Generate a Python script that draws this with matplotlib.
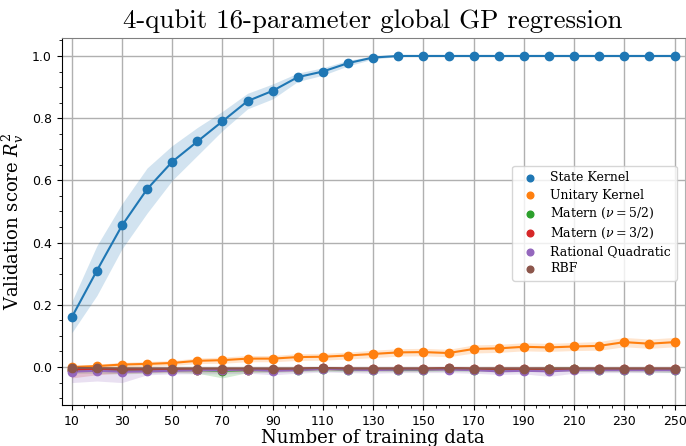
import matplotlib.pyplot as plt
import numpy as np
from matplotlib.ticker import MultipleLocator

plt.rcParams['mathtext.fontset'] = 'dejavuserif'

# training set sizes
n_train = np.arange(10, 251, 10)

# mean validation scores and +/- band
state_mean = [0.160, 0.310, 0.455, 0.572, 0.660, 0.725, 0.790, 0.855, 0.888, 0.932, 0.950, 0.977, 0.995,
              1.0, 1.0, 1.0, 1.0, 1.0, 1.0, 1.0, 1.0, 1.0, 1.0, 1.0, 1.0]
state_lo = [0.110, 0.230, 0.380, 0.495, 0.600, 0.680, 0.760, 0.830, 0.862, 0.918, 0.938, 0.968, 0.990,
            0.998, 0.999, 0.999, 0.999, 0.999, 0.999, 0.999, 0.999, 0.999, 0.999, 0.999, 0.999]
state_hi = [0.210, 0.390, 0.525, 0.640, 0.712, 0.770, 0.822, 0.880, 0.910, 0.945, 0.962, 0.986, 1.0,
            1.0, 1.0, 1.0, 1.0, 1.0, 1.0, 1.0, 1.0, 1.0, 1.0, 1.0, 1.0]

unitary_mean = [0.000, 0.003, 0.008, 0.010, 0.013, 0.020, 0.022, 0.027, 0.027, 0.032, 0.033, 0.037, 0.042,
                0.047, 0.048, 0.045, 0.058, 0.060, 0.065, 0.063, 0.066, 0.068, 0.080, 0.075, 0.080]
unitary_err = [0.005, 0.006, 0.007, 0.008, 0.008, 0.009, 0.010, 0.010, 0.010, 0.011, 0.011, 0.011, 0.012,
               0.012, 0.012, 0.012, 0.013, 0.013, 0.013, 0.013, 0.013, 0.014, 0.015, 0.015, 0.015]

m52_mean = [-0.008, -0.008, -0.010, -0.010, -0.010, -0.010, -0.012, -0.010, -0.010, -0.008, -0.006, -0.008, -0.008,
            -0.008, -0.008, -0.006, -0.008, -0.008, -0.008, -0.006, -0.006, -0.008, -0.008, -0.008, -0.010]
m52_lo = [-0.020, -0.020, -0.022, -0.020, -0.018, -0.020, -0.035, -0.018, -0.018, -0.015, -0.014, -0.015, -0.015,
          -0.015, -0.015, -0.014, -0.015, -0.015, -0.015, -0.014, -0.014, -0.015, -0.015, -0.016, -0.018]
m52_hi = [0.000, 0.000, 0.000, -0.002, -0.002, -0.002, -0.002, -0.002, -0.002, -0.001, 0.000, -0.001, -0.001,
          -0.001, -0.001, 0.000, -0.001, -0.001, -0.001, 0.000, 0.000, -0.001, -0.001, -0.001, -0.002]

m32_mean = [-0.008, -0.008, -0.008, -0.008, -0.008, -0.008, -0.008, -0.008, -0.008, -0.006, -0.004, -0.006, -0.006,
            -0.006, -0.006, -0.004, -0.006, -0.006, -0.006, -0.006, -0.006, -0.006, -0.006, -0.006, -0.006]
m32_lo = [-0.035, -0.025, -0.020, -0.018, -0.016, -0.016, -0.016, -0.015, -0.015, -0.013, -0.010, -0.012, -0.012,
          -0.012, -0.012, -0.010, -0.012, -0.012, -0.012, -0.012, -0.012, -0.012, -0.012, -0.012, -0.012]
m32_hi = [0.002, 0.001, 0.000, 0.000, 0.000, 0.000, 0.000, 0.000, 0.000, 0.000, 0.001, 0.000, 0.000,
          0.000, 0.000, 0.001, 0.000, 0.000, 0.000, 0.000, 0.000, 0.000, 0.000, 0.000, 0.000]

rq_mean = [-0.015, -0.012, -0.015, -0.014, -0.012, -0.010, -0.010, -0.008, -0.012, -0.010, -0.006, -0.008, -0.010,
           -0.008, -0.008, -0.008, -0.010, -0.014, -0.012, -0.014, -0.010, -0.010, -0.010, -0.010, -0.010]
rq_lo = [-0.050, -0.045, -0.050, -0.025, -0.022, -0.022, -0.022, -0.020, -0.025, -0.020, -0.016, -0.018, -0.020,
         -0.018, -0.018, -0.018, -0.020, -0.024, -0.022, -0.030, -0.020, -0.018, -0.018, -0.018, -0.018]
rq_hi = [0.000, 0.000, -0.002, -0.004, -0.003, -0.002, -0.002, -0.001, -0.002, -0.002, 0.000, -0.001, -0.002,
         -0.001, -0.001, -0.001, -0.002, -0.004, -0.003, -0.003, -0.002, -0.002, -0.002, -0.002, -0.002]

rbf_mean = [-0.002, -0.004, -0.005, -0.005, -0.005, -0.005, -0.005, -0.005, -0.005, -0.005, -0.003, -0.005, -0.005,
            -0.005, -0.005, -0.004, -0.005, -0.005, -0.005, -0.005, -0.005, -0.005, -0.005, -0.005, -0.005]
rbf_err = [0.004, 0.004, 0.004, 0.004, 0.004, 0.004, 0.004, 0.004, 0.004, 0.004, 0.004, 0.004, 0.004,
           0.004, 0.004, 0.004, 0.004, 0.004, 0.004, 0.004, 0.004, 0.004, 0.004, 0.004, 0.004]

fig, ax = plt.subplots(figsize=(6.86, 4.46), dpi=100)
fig.subplots_adjust(left=0.09, right=0.998, top=0.915, bottom=0.092)

series = [
    ('State Kernel', 'tab:blue', state_mean, state_lo, state_hi),
    ('Unitary Kernel', 'tab:orange', unitary_mean,
     np.subtract(unitary_mean, unitary_err), np.add(unitary_mean, unitary_err)),
    (r'Matern ($\nu=5/2$)', 'tab:green', m52_mean, m52_lo, m52_hi),
    (r'Matern ($\nu=3/2$)', 'tab:red', m32_mean, m32_lo, m32_hi),
    ('Rational Quadratic', 'tab:purple', rq_mean, rq_lo, rq_hi),
    ('RBF', 'tab:brown', rbf_mean, np.subtract(rbf_mean, rbf_err), np.add(rbf_mean, rbf_err)),
]

for label, c, mean, lo, hi in series:
    ax.fill_between(n_train, lo, hi, color=c, alpha=0.2, linewidth=0)
    ax.plot(n_train, mean, color=c, linewidth=1.5)
    ax.scatter(n_train, mean, color=c, s=36, label=label, zorder=3)

ax.set_xlim(6, 254)
ax.set_ylim(-0.122, 1.058)
ax.set_xticks(np.arange(10, 251, 20))
ax.xaxis.set_minor_locator(MultipleLocator(5))
ax.set_yticks(np.arange(0, 1.01, 0.2))
ax.yaxis.set_minor_locator(MultipleLocator(0.05))
ax.tick_params(labelsize=9)
ax.grid(True, which='major', color='#b0b0b0', linewidth=1.0)
ax.set_axisbelow(True)

ax.spines['top'].set_color('#808080')
ax.spines['right'].set_color('#b0b0b0')

ax.set_xlabel('Number of training data', family='DejaVu Serif', fontsize=13, labelpad=1)
ax.set_ylabel(r'Validation score $R_v^2$', family='DejaVu Serif', fontsize=13)
ax.set_title('4-qubit 16-parameter global GP regression', family='cmr10', fontsize=19.4, pad=7)

ax.legend(loc='center right', bbox_to_anchor=(0.997, 0.495), prop={'family': 'DejaVu Serif', 'size': 9},
          scatterpoints=1, handletextpad=0.6, borderpad=0.45, labelspacing=0.35, markerscale=0.8)

plt.savefig('out.png')
